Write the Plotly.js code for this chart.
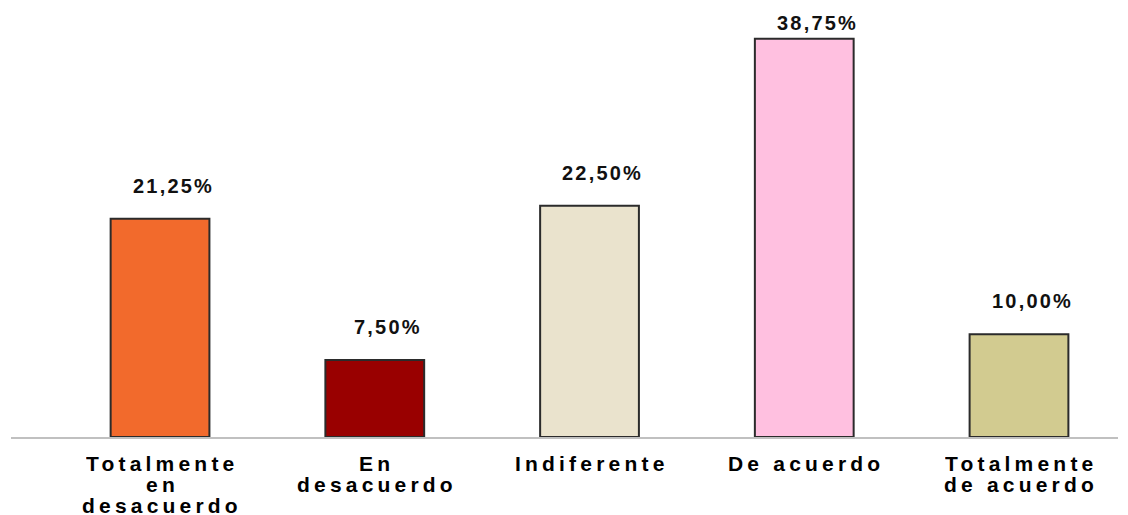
<!DOCTYPE html>
<html>
<head>
<meta charset="utf-8">
<script src="https://cdn.plot.ly/plotly-3.0.1.min.js"></script>
<style>html,body{margin:0;padding:0;background:#fff}#chart{width:1128px;height:515px}</style>
</head>
<body>
<div id="chart"></div>
<script>
// Data
var categories = ["Totalmente\nen\ndesacuerdo", "En\ndesacuerdo", "Indiferente", "De acuerdo", "Totalmente\nde acuerdo"];
var values = [21.25, 7.50, 22.50, 38.75, 10.00];
var valueLabels = ["21,25%", "7,50%", "22,50%", "38,75%", "10,00%"];
var barColors = ["#F26A2C", "#990000", "#EAE3CD", "#FFC0E0", "#D2CB90"];

var xs = categories.map(function(c, i){ return i; });

var marginT = 26, marginB = 78, H = 515;
var yMax = 40;
var pxPerUnit = (H - marginT - marginB) / yMax;

var font = "Liberation Sans, Arial, sans-serif";
var annotations = [];
values.forEach(function(v, i){
  var distTop = (yMax - v) * pxPerUnit + marginT; // pixels from top of page to bar top
  var shift = Math.min(33, distTop - 23);
  annotations.push({
    x: xs[i], y: v, xref: "x", yref: "y",
    text: "<b><span style='letter-spacing:2.2px'>" + valueLabels[i] + "</span></b>",
    showarrow: false, xanchor: "center", yanchor: "middle",
    xshift: 13, yshift: shift,
    font: {family: font, size: 20, color: "#111"}
  });
});
categories.forEach(function(c, i){
  c.split("\n").forEach(function(line, j){
    annotations.push({
      x: xs[i], y: 0, xref: "x", yref: "paper",
      text: "<b><span style='letter-spacing:4.2px'>" + line + "</span></b>",
      showarrow: false, xanchor: "center", yanchor: "middle",
      height: 20, borderpad: 0,
      xshift: 2, yshift: -(26 + j * 21),
      font: {family: font, size: 21, color: "#000"}
    });
  });
});

var trace = {
  type: "bar",
  x: xs,
  y: values,
  width: 0.46,
  marker: {color: barColors, line: {color: "#2b2b2b", width: 2}},
  hoverinfo: "skip"
};

var layout = {
  width: 1128, height: 515,
  margin: {l: 11, r: 10, t: marginT, b: marginB},
  paper_bgcolor: "#ffffff", plot_bgcolor: "#ffffff",
  showlegend: false,
  xaxis: {range: [-0.694, 4.461], showline: true, linecolor: "#C0C0C0", linewidth: 2,
          showticklabels: false, ticks: "", showgrid: false, zeroline: false, fixedrange: true},
  yaxis: {range: [0, yMax], visible: false, showgrid: false, zeroline: false, fixedrange: true},
  annotations: annotations
};

Plotly.newPlot("chart", [trace], layout, {displayModeBar: false, staticPlot: true});
</script>
</body>
</html>
